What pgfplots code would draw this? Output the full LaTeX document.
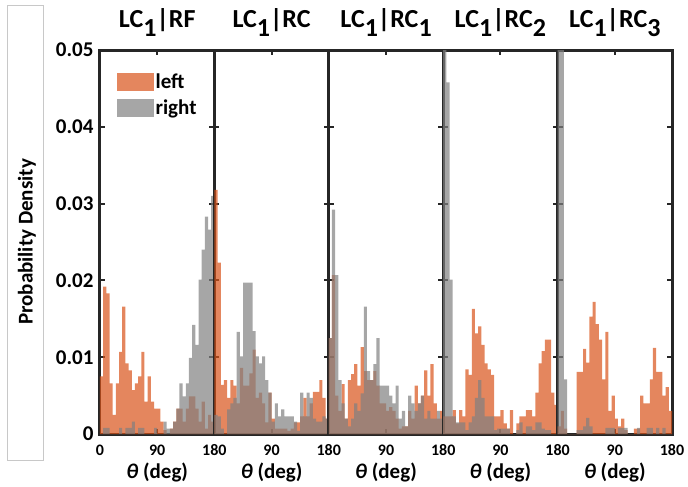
\documentclass[border=0pt]{standalone}
\usepackage{fontspec}
\setmainfont{Carlito}
\usepackage{pgfplots}
\pgfplotsset{compat=1.18}
\usepackage{pgfplotstable}

\definecolor{lefto}{RGB}{217,83,25}
\definecolor{rightg}{RGB}{128,128,128}
\definecolor{axdark}{RGB}{38,38,38}
\definecolor{boxgray}{RGB}{200,200,200}

\newcommand{\fs}[1]{\fontsize{#1}{#1}\selectfont\bfseries}
\newcommand{\sub}[1]{\raisebox{-9pt}{#1}}

% bins of 5 deg, left edges; last row closes the last bin
\pgfplotstableread{
x L R
0 0.0075 0
5 0.0192 0.0008
10 0.0183 0.0008
15 0.0066 0
20 0.0025 0
25 0.0066 0
30 0.0107 0.0008
35 0.0166 0
40 0.0092 0.0008
45 0.0083 0.0008
50 0.0057 0.0016
55 0.0066 0
60 0.0075 0.0008
65 0.0107 0.0008
70 0.0042 0
75 0.0075 0
80 0.0042 0
85 0.0033 0.0008
90 0.0033 0
95 0.0016 0
100 0.0005 0.0016
105 0 0.0007
110 0.0007 0.0007
115 0.0016 0.0016
120 0.0033 0.0033
125 0.0033 0.0066
130 0.0016 0.0049
135 0.0033 0.0066
140 0.0049 0.0099
145 0.0049 0.0142
150 0.0033 0.0116
155 0.0016 0.0201
160 0.0042 0.0240
165 0.0007 0.0283
170 0.0025 0.0266
175 0.0016 0.0310
180 0.0016 0.0310
}\tRF

\pgfplotstableread{
x L R
0 0.0318 0.0025
5 0.0223 0.0023
10 0.0064 0.0007
15 0.0070 0
20 0.0047 0.0032
25 0.0070 0.0040
30 0.0063 0.0047
35 0.0040 0.0133
40 0.0086 0.0101
45 0.0063 0.0197
50 0.0063 0.0197
55 0.0079 0.0197
60 0.0110 0.0134
65 0.0047 0.0101
70 0.0054 0.0092
75 0.0040 0.0101
80 0.0015 0.0070
85 0.0054 0.0054
90 0.0020 0.0016
95 0.0007 0.0040
100 0.0007 0.0023
105 0.0007 0.0032
110 0.0007 0.0023
115 0.0004 0.0023
120 0.0007 0.0023
125 0.0015 0.0016
130 0.0015 0.0004
135 0.0023 0.0054
140 0.0047 0.0023
145 0.0023 0.0054
150 0.0040 0.0047
155 0.0055 0.0020
160 0.0055 0.0016
165 0.0070 0.0016
170 0.0047 0.0023
175 0.0020 0.0020
180 0.0020 0.0020
}\tRC

\pgfplotstableread{
x L R
0 0.0125 0.0125
5 0.0207 0.0292
10 0.0050 0.0207
15 0.0030 0.0070
20 0.0065 0.0040
25 0.0020 0.0020
30 0.0070 0.0010
35 0.0078 0.0020
40 0.0091 0.0040
45 0.0063 0.0030
50 0.0113 0.0053
55 0.0082 0.0166
60 0.0070 0.0082
65 0.0070 0.0070
70 0.0082 0.0091
75 0.0063 0.0125
80 0.0040 0.0063
85 0.0040 0.0063
90 0.0030 0.0063
95 0.0035 0.0050
100 0.0030 0.0040
105 0.0020 0.0063
110 0.0007 0.0020
115 0.0010 0.0030
120 0.0010 0.0010
125 0.0030 0.0050
130 0.0020 0.0040
135 0.0063 0.0030
140 0.0040 0.0040
145 0.0050 0.0050
150 0.0083 0.0020
155 0.0050 0.0030
160 0.0091 0.0020
165 0.0040 0.0020
170 0.0020 0.0030
175 0.0030 0.0020
180 0.0030 0.0020
}\tRCa

\pgfplotstableread{
x L R
0 0.0023 0.0850
5 0.0023 0.0458
10 0.0023 0.0201
15 0.0031 0.0023
20 0.0014 0.0015
25 0.0031 0.0015
30 0.0023 0.0015
35 0.0084 0.0005
40 0.0077 0.0015
45 0.0163 0.0023
50 0.0131 0.0047
55 0.0140 0.0070
60 0.0116 0.0047
65 0.0092 0.0023
70 0.0084 0.0023
75 0.0077 0.0023
80 0.0023 0.0005
85 0.0023 0.0007
90 0.0031 0.0007
95 0.0014 0.0007
100 0.0007 0.0007
105 0.0031 0
110 0 0
115 0.0014 0.0005
120 0.0023 0.0015
125 0.0023 0
130 0.0031 0.0010
135 0.0031 0.0010
140 0.0023 0.0005
145 0.0054 0.0015
150 0.0092 0.0015
155 0.0108 0.0007
160 0.0123 0.0005
165 0.0123 0.0005
170 0.0054 0
175 0.0038 0
180 0.0038 0
}\tRCb

\pgfplotstableread{
x L R
0 0.0010 0.0800
5 0.0030 0.0750
10 0.0007 0.0071
15 0 0
20 0 0
25 0 0
30 0.0081 0.0005
35 0.0081 0.0005
40 0.0111 0.0010
45 0.0093 0.0021
50 0.0153 0.0010
55 0.0172 0
60 0.0143 0
65 0.0123 0
70 0.0071 0
75 0.0133 0.0008
80 0.0030 0.0008
85 0.0050 0.0008
90 0.0020 0
95 0.0010 0.0008
100 0.0020 0.0008
105 0.0005 0.0008
110 0 0
115 0 0
120 0.0007 0
125 0.0007 0.0008
130 0.0050 0
135 0.0040 0
140 0.0040 0.0008
145 0.0071 0.0008
150 0.0112 0
155 0.0081 0.0008
160 0.0081 0
165 0.0050 0.0008
170 0.0061 0
175 0.0030 0
180 0.0030 0
}\tRCc

\pgfplotsset{
  patch/.style={legend image code/.code={\fill[##1] (0pt,-9.2pt) rectangle (36.7pt,9.2pt);}},
  lhist/.style={ybar interval, draw=none, fill=lefto, fill opacity=0.7, patch},
  rhist/.style={ybar interval, draw=none, fill=rightg, fill opacity=0.7, patch},
  panel/.style={
    scale only axis, width=114.4pt, height=384pt,
    anchor=south west,
    xmin=0, xmax=180, ymin=0, ymax=0.05,
    scaled y ticks=false, scaled x ticks=false,
    xtick={0,90,180}, ytick={0,0.01,0.02,0.03,0.04,0.05},
    yticklabels={},
    tick align=inside, major tick length=5pt,
    every tick/.style={axdark, line width=2pt},
    axis line style={axdark, line width=3pt},
    xticklabel style={font=\fs{16}, anchor=base, yshift=-21pt},
    xlabel={\textit{θ} (deg)},
    xlabel style={font=\fs{21}, at={(axis description cs:0.5,0)}, anchor=base, yshift=-44pt},
    title style={font=\fs{26}, at={(axis description cs:0.5,1)}, anchor=base, yshift=17pt},
  },
}

\begin{document}
\begin{tikzpicture}
\useasboundingbox (0,0) rectangle (688pt,-487pt);
\draw[boxgray, line width=0.8pt] (7pt,-5pt) rectangle (43pt,-460pt);

\begin{axis}[panel, at={(100pt,-434pt)},
  xticklabels={0,90,180},
  yticklabels={0,0.01,0.02,0.03,0.04,0.05},
  yticklabel style={font=\fs{21}, xshift=-3pt},
  ylabel={Probability Density},
  ylabel style={font=\fs{21}, at={(axis description cs:-0.64,0.5)}, anchor=center},
  title={LC\sub{1}|RF},
  legend style={at={(0.146,0.9435)}, anchor=north west, draw=none, fill=none,
    inner sep=0pt, font=\fs{21}, row sep=6pt, cells={anchor=west}},
]
\addplot[lhist] table[x=x, y=L] {\tRF};
\addlegendentry{left}
\addplot[rhist] table[x=x, y=R] {\tRF};
\addlegendentry{right}
\end{axis}

\begin{axis}[panel, at={(214.4pt,-434pt)}, xticklabels={,90,180}, title={LC\sub{1}|RC}]
\addplot[lhist] table[x=x, y=L] {\tRC};
\addplot[rhist] table[x=x, y=R] {\tRC};
\end{axis}

\begin{axis}[panel, at={(328.8pt,-434pt)}, xticklabels={,90,180}, title={LC\sub{1}|RC\sub{1}}]
\addplot[lhist] table[x=x, y=L] {\tRCa};
\addplot[rhist] table[x=x, y=R] {\tRCa};
\end{axis}

\begin{axis}[panel, at={(443.2pt,-434pt)}, xticklabels={,90,180}, title={LC\sub{1}|RC\sub{2}}]
\addplot[lhist] table[x=x, y=L] {\tRCb};
\addplot[rhist] table[x=x, y=R] {\tRCb};
\end{axis}

\begin{axis}[panel, at={(557.6pt,-434pt)}, xticklabels={,90,180}, title={LC\sub{1}|RC\sub{3}}]
\addplot[lhist] table[x=x, y=L] {\tRCc};
\addplot[rhist] table[x=x, y=R] {\tRCc};
\end{axis}
\end{tikzpicture}
\end{document}
